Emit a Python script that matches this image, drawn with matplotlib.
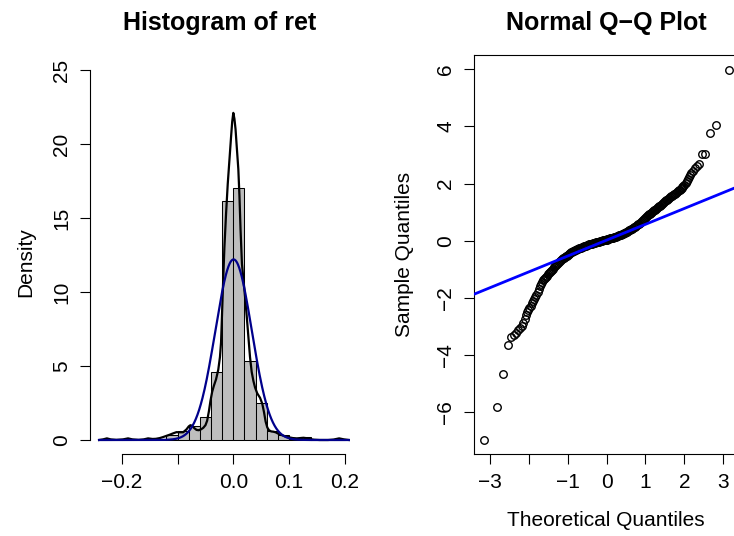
import numpy as np
import matplotlib
matplotlib.use("Agg")
import matplotlib.pyplot as plt

plt.rcParams['font.family'] = ['Liberation Sans', 'DejaVu Sans']

# ---------------- Histogram data ----------------
hist_bin_edges = [-0.24, -0.22, -0.20, -0.18, -0.16, -0.14, -0.12, -0.10, -0.08, -0.06, -0.04,
                  -0.02, 0.00, 0.02, 0.04, 0.06, 0.08, 0.10, 0.12, 0.14, 0.16, 0.18, 0.20]
hist_density = [0.083, 0.0, 0.083, 0.0, 0.083, 0.083, 0.33, 0.58, 0.92, 1.58, 4.58,
                16.17, 17.0, 5.33, 2.5, 0.58, 0.33, 0.083, 0.17, 0.0, 0.0, 0.083]

kde_x = [-0.241, -0.234, -0.227, -0.220, -0.210, -0.198, -0.189, -0.181, -0.170, -0.161,
         -0.153, -0.145, -0.139, -0.132, -0.126, -0.120, -0.114, -0.108, -0.102, -0.096,
         -0.090, -0.084, -0.080, -0.077, -0.074, -0.070, -0.066, -0.062, -0.058, -0.054,
         -0.050, -0.047, -0.044, -0.041, -0.038, -0.035, -0.031, -0.027, -0.024, -0.022,
         -0.020, -0.018, -0.016, -0.013, -0.010, -0.007, -0.004, -0.002, 0.000, 0.002,
         0.004, 0.006, 0.009, 0.011, 0.013, 0.0155, 0.018, 0.021, 0.024, 0.027,
         0.030, 0.033, 0.036, 0.039, 0.043, 0.048, 0.052, 0.055, 0.058, 0.061,
         0.064, 0.068, 0.072, 0.076, 0.081, 0.087, 0.093, 0.100, 0.107, 0.114,
         0.120, 0.126, 0.132, 0.138, 0.145, 0.155, 0.170, 0.180, 0.190, 0.199, 0.2075]
kde_y = [0.00, 0.04, 0.11, 0.04, 0.01, 0.04, 0.11, 0.04, 0.01, 0.04,
         0.11, 0.07, 0.08, 0.13, 0.20, 0.28, 0.36, 0.45, 0.53, 0.52,
         0.52, 0.72, 0.92, 1.00, 0.96, 0.80, 0.68, 0.66, 0.72, 0.82,
         1.00, 1.30, 1.90, 2.65, 3.25, 3.65, 4.10, 4.75, 5.60, 6.60,
         8.80, 11.0, 13.0, 15.3, 17.3, 18.9, 20.5, 21.5, 22.1, 21.7,
         21.0, 19.9, 18.3, 16.5, 14.2, 11.9, 10.9, 9.7, 8.4, 7.0,
         5.6, 4.6, 4.0, 3.55, 3.15, 2.85, 2.45, 1.90, 1.25, 0.85,
         0.66, 0.58, 0.56, 0.52, 0.42, 0.33, 0.25, 0.18, 0.13, 0.11,
         0.13, 0.15, 0.12, 0.06, 0.02, 0.00, 0.00, 0.03, 0.11, 0.04, 0.00]

# fitted normal density parameters (mean, sd of ret) and plotted range
norm_mean = 0.0005
norm_sd = 0.0327
norm_range = [-0.241, 0.2075]

hist_xticks = [-0.2, -0.1, 0.0, 0.1, 0.2]
hist_xticklabels = ['\u22120.2', '', '0.0', '0.1', '0.2']
hist_yticks = [0, 5, 10, 15, 20, 25]
hist_yticklabels = ['0', '5', '10', '15', '20', '25']

# ---------------- Q-Q data ----------------
# lower tail (individual points)
qq_theo_lower = [-3.145, -2.807, -2.652, -2.540, -2.450, -2.380, -2.320, -2.270, -2.220, -2.180,
                 -2.140, -2.100, -2.070, -2.040, -2.010, -1.980, -1.950, -1.920, -1.890, -1.860,
                 -1.830, -1.800, -1.770, -1.740, -1.710, -1.680, -1.650, -1.625]
qq_samp_lower = [-6.97, -5.80, -4.66, -3.64, -3.38, -3.30, -3.22, -3.13, -3.05, -2.97,
                 -2.86, -2.72, -2.60, -2.50, -2.41, -2.34, -2.27, -2.19, -2.10, -2.03,
                 -1.95, -1.88, -1.78, -1.68, -1.59, -1.50, -1.44, -1.38]
# dense central band
qq_theo_mid = [-1.600, -1.575, -1.550, -1.525, -1.500, -1.475, -1.450, -1.425, -1.400, -1.375,
               -1.350, -1.325, -1.300, -1.275, -1.250, -1.225, -1.200, -1.175, -1.150, -1.125,
               -1.100, -1.075, -1.050, -1.025, -1.000, -0.975, -0.950, -0.925, -0.900, -0.875,
               -0.850, -0.825, -0.800, -0.775, -0.750, -0.725, -0.700, -0.675, -0.650, -0.625,
               -0.600, -0.575, -0.550, -0.525, -0.500, -0.475, -0.450, -0.425, -0.400, -0.375,
               -0.350, -0.325, -0.300, -0.275, -0.250, -0.225, -0.200, -0.175, -0.150, -0.125,
               -0.100, -0.075, -0.050, -0.025, 0.000, 0.025, 0.050, 0.075, 0.100, 0.125,
               0.150, 0.175, 0.200, 0.225, 0.250, 0.275, 0.300, 0.325, 0.350, 0.375,
               0.400, 0.425, 0.450, 0.475, 0.500, 0.525, 0.550, 0.575, 0.600, 0.625,
               0.650, 0.675, 0.700, 0.725, 0.750, 0.775, 0.800, 0.825, 0.850, 0.875,
               0.900, 0.925, 0.950, 0.975, 1.000, 1.025, 1.050, 1.075, 1.100, 1.125,
               1.150, 1.175, 1.200, 1.225, 1.250, 1.275, 1.300, 1.325, 1.350, 1.375,
               1.400, 1.425, 1.450, 1.475, 1.500, 1.525, 1.550, 1.575, 1.600, 1.625,
               1.650, 1.675, 1.700, 1.725, 1.750, 1.775, 1.800, 1.825, 1.850, 1.875,
               1.900, 1.925, 1.950, 1.975, 2.000]
qq_samp_mid = [-1.34, -1.30, -1.26, -1.22, -1.17, -1.13, -1.09, -1.05, -1.01, -0.97,
               -0.93, -0.89, -0.85, -0.81, -0.77, -0.74, -0.70, -0.67, -0.64, -0.61,
               -0.59, -0.56, -0.54, -0.52, -0.50, -0.47, -0.45, -0.43, -0.41, -0.39,
               -0.37, -0.35, -0.33, -0.32, -0.30, -0.29, -0.27, -0.26, -0.24, -0.23,
               -0.21, -0.20, -0.18, -0.17, -0.15, -0.14, -0.13, -0.12, -0.11, -0.10,
               -0.09, -0.08, -0.07, -0.06, -0.05, -0.04, -0.03, -0.02, -0.01, 0.00,
               0.01, 0.02, 0.03, 0.035, 0.04, 0.05, 0.06, 0.07, 0.08, 0.09,
               0.10, 0.11, 0.12, 0.13, 0.14, 0.155, 0.17, 0.185, 0.20, 0.215,
               0.23, 0.245, 0.26, 0.28, 0.30, 0.32, 0.34, 0.36, 0.38, 0.40,
               0.42, 0.445, 0.47, 0.495, 0.52, 0.545, 0.57, 0.595, 0.62, 0.65,
               0.68, 0.71, 0.74, 0.77, 0.80, 0.83, 0.86, 0.89, 0.92, 0.95,
               0.98, 1.005, 1.03, 1.06, 1.09, 1.115, 1.14, 1.17, 1.20, 1.23,
               1.26, 1.29, 1.32, 1.35, 1.38, 1.41, 1.44, 1.47, 1.50, 1.53,
               1.56, 1.58, 1.60, 1.625, 1.65, 1.675, 1.70, 1.73, 1.76, 1.79,
               1.82, 1.85, 1.88, 1.92, 1.96]
# upper tail (individual points)
qq_theo_upper = [2.030, 2.060, 2.090, 2.120, 2.150, 2.180, 2.220, 2.270, 2.320, 2.380,
                 2.450, 2.540, 2.652, 2.807, 3.145]
qq_samp_upper = [2.03, 2.10, 2.17, 2.23, 2.30, 2.38, 2.45, 2.54, 2.62, 2.68,
                 3.03, 3.05, 3.76, 4.05, 5.98]

qq_line_intercept = 0.02
qq_line_slope = 0.556

qq_xticks = [-3, -2, -1, 0, 1, 2, 3]
qq_xticklabels = ['\u22123', '', '\u22121', '0', '1', '2', '3']
qq_yticks = [-6, -4, -2, 0, 2, 4, 6]
qq_yticklabels = ['\u22126', '\u22124', '\u22122', '0', '2', '4', '6']

# ---------------- Figure ----------------
W, H = 734, 536
fig = plt.figure(figsize=(W / 100, H / 100), dpi=100)

def px_axes(x0, y0, x1, y1):
    return fig.add_axes([x0 / W, 1 - y1 / H, (x1 - x0) / W, (y1 - y0) / H])

FS = 15
TITLE_FS = 18
TICK_LEN = 7
TICK_PAD = 6.5
LW_AX = 0.8

# --- Histogram panel ---
ax1 = px_axes(90, 55, 350, 454)
edges = np.array(hist_bin_edges)
ax1.bar(edges[:-1], hist_density, width=np.diff(edges), align='edge',
        color='#BEBEBE', edgecolor='black', linewidth=0.75, zorder=1)
ax1.plot(kde_x, kde_y, color='black', lw=1.6, zorder=2)
xn = np.linspace(norm_range[0], norm_range[1], 600)
yn = np.exp(-0.5 * ((xn - norm_mean) / norm_sd) ** 2) / (norm_sd * np.sqrt(2 * np.pi))
ax1.plot(xn, yn, color='#00008B', lw=1.6, zorder=3)

ax1.set_xlim(-0.2573, 0.2095)
ax1.set_ylim(-0.946, 26.01)
for s in ['top', 'right']:
    ax1.spines[s].set_visible(False)
ax1.spines['left'].set_bounds(0, 25)
ax1.spines['bottom'].set_bounds(-0.2, 0.2)
for s in ['left', 'bottom']:
    ax1.spines[s].set_linewidth(LW_AX)
ax1.set_xticks(hist_xticks)
ax1.set_xticklabels(hist_xticklabels, fontsize=FS)
ax1.set_yticks(hist_yticks)
ax1.set_yticklabels(hist_yticklabels, fontsize=FS, rotation=90, va='center')
ax1.tick_params(direction='out', length=TICK_LEN, width=LW_AX, pad=TICK_PAD)
ax1.set_title('Histogram of ret', fontsize=TITLE_FS, fontweight='bold', pad=18)
fig.text(26 / W, 1 - 262 / H, 'Density', rotation=90, ha='center', va='center', fontsize=FS)

# --- Q-Q panel ---
ax2 = px_axes(474, 55, 739, 454)
for tx, sy in [(qq_theo_lower, qq_samp_lower), (qq_theo_mid, qq_samp_mid),
               (qq_theo_upper, qq_samp_upper)]:
    ax2.plot(tx, sy, linestyle='none', marker='o', markersize=5.4,
             markerfacecolor='none', markeredgecolor='black', markeredgewidth=1.0, zorder=2)
ax2.axline((0, qq_line_intercept), slope=qq_line_slope, color='#0000FF', lw=2.0, zorder=3)
ax2.set_xlim(-3.40, 3.40)
ax2.set_ylim(-7.46, 6.50)
for s in ax2.spines.values():
    s.set_linewidth(LW_AX)
ax2.set_xticks(qq_xticks)
ax2.set_xticklabels(qq_xticklabels, fontsize=FS)
ax2.set_yticks(qq_yticks)
ax2.set_yticklabels(qq_yticklabels, fontsize=FS, rotation=90, va='center')
ax2.tick_params(direction='out', length=TICK_LEN, width=LW_AX, pad=TICK_PAD)
ax2.set_title('Normal Q\u2212Q Plot', fontsize=TITLE_FS, fontweight='bold', pad=18)
fig.text(405 / W, 1 - 254.5 / H, 'Sample Quantiles', rotation=90, ha='center', va='center', fontsize=FS)
fig.text(606 / W, 1 - 520 / H, 'Theoretical Quantiles', ha='center', va='center', fontsize=FS)

fig.savefig('out.png', dpi=100)
